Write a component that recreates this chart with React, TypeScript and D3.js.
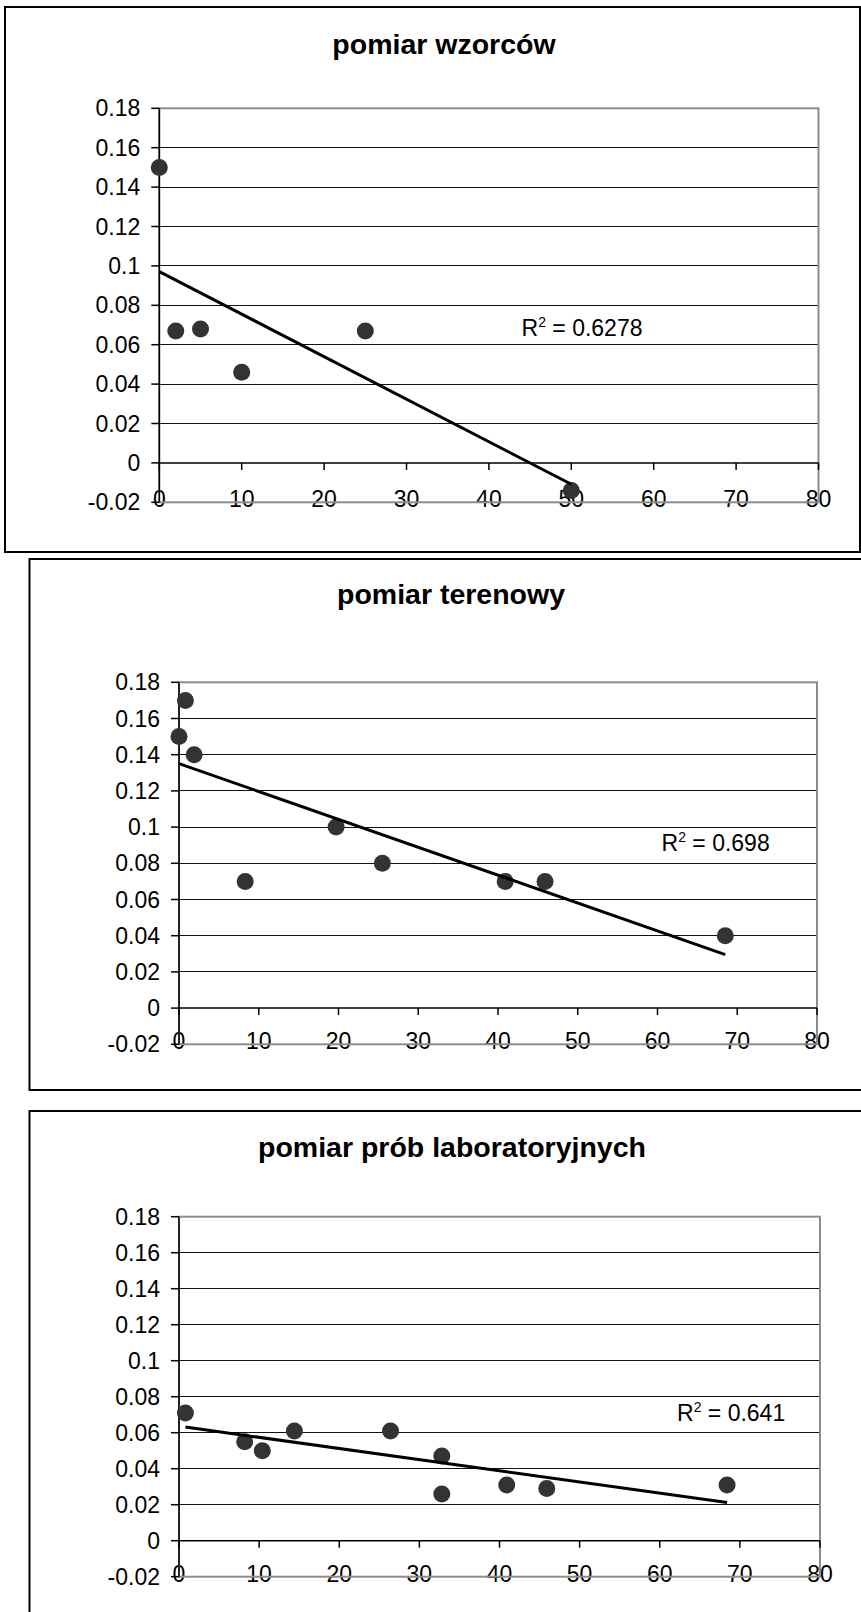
import React from 'react'
import * as d3 from 'd3'

// axis ticks shared by all three panels
const xTicks = [0, 10, 20, 30, 40, 50, 60, 70, 80]
const yTicks = [-0.02, 0, 0.02, 0.04, 0.06, 0.08, 0.1, 0.12, 0.14, 0.16, 0.18]
const yTickLabels = ['-0.02', '0', '0.02', '0.04', '0.06', '0.08', '0.1', '0.12', '0.14', '0.16', '0.18']

const titles = ['pomiar wzorców', 'pomiar terenowy', 'pomiar prób laboratoryjnych']
const r2Labels = ['0.6278', '0.698', '0.641']

// pomiar wzorców
const wzorceX = [0, 2, 5, 10, 25, 50]
const wzorceY = [0.15, 0.067, 0.068, 0.046, 0.067, -0.014]

// pomiar terenowy
const terenX = [0, 0.8, 1.9, 8.3, 19.7, 25.5, 40.9, 45.9, 68.5]
const terenY = [0.15, 0.17, 0.14, 0.07, 0.1, 0.08, 0.07, 0.07, 0.04]

// pomiar prób laboratoryjnych
const labX = [0.8, 8.2, 10.4, 14.4, 26.4, 32.8, 32.8, 40.9, 45.9, 68.4]
const labY = [0.071, 0.055, 0.05, 0.061, 0.061, 0.047, 0.026, 0.031, 0.029, 0.031]

const seriesX = [wzorceX, terenX, labX]
const seriesY = [wzorceY, terenY, labY]

// page layout of each panel (frame, plot area, title, R² label)
const panels = [
  { fx: 5, fy: 7, fw: 855, fh: 545, px0: 159.3, px1: 818.5, py0: 108.3, py1: 502.3, tx: 444, ty: 54, rx: 521.5, ry: 336 },
  { fx: 29.5, fy: 559, fw: 843, fh: 531, px0: 179, px1: 817, py0: 682.3, py1: 1044.3, tx: 451, ty: 604, rx: 661.5, ry: 851 },
  { fx: 29.5, fy: 1111, fw: 843, fh: 540, px0: 179, px1: 820, py0: 1216.7, py1: 1576.7, tx: 452, ty: 1157, rx: 677, ry: 1421 },
]

const FONT = '"Liberation Sans", Arial, sans-serif'
const TICK_SIZE = 23

// least squares fit, like Excel's linear trendline
function linearFit(xs: number[], ys: number[]) {
  const mx = d3.mean(xs) as number
  const my = d3.mean(ys) as number
  let sxy = 0
  let sxx = 0
  xs.forEach((x, i) => {
    sxy += (x - mx) * (ys[i] - my)
    sxx += (x - mx) * (x - mx)
  })
  const slope = sxy / sxx
  return (x: number) => my + slope * (x - mx)
}

function Panel({ idx }: { idx: number }) {
  const p = panels[idx]
  const xs = seriesX[idx]
  const ys = seriesY[idx]
  const x = d3.scaleLinear().domain([0, 80]).range([p.px0, p.px1])
  const y = d3.scaleLinear().domain([-0.02, 0.18]).range([p.py1, p.py0])
  const fit = linearFit(xs, ys)
  const [xmin, xmax] = d3.extent(xs) as [number, number]
  const trend = d3.line<number>().x(d => x(d)).y(d => y(fit(d)))([xmin, xmax]) || ''

  return (
    <g>
      <rect x={p.fx} y={p.fy} width={p.fw} height={p.fh} fill="#fff" stroke="#000" strokeWidth={2} />
      <text x={p.tx} y={p.ty} textAnchor="middle" fontFamily={FONT} fontWeight="bold" fontSize={28.5} fill="#000">
        {titles[idx]}
      </text>

      {/* gridlines */}
      {yTicks.filter(t => t > 0 && t < 0.17).map(t => (
        <line key={t} x1={p.px0} x2={p.px1} y1={y(t)} y2={y(t)} stroke="#111" strokeWidth={1} shapeRendering="crispEdges" />
      ))}

      {/* y tick labels */}
      {yTicks.map((t, i) => (
        <text key={t} x={p.px0 - 19} y={y(t) + 8} textAnchor="end" fontFamily={FONT} fontSize={TICK_SIZE} fill="#000">
          {yTickLabels[i]}
        </text>
      ))}
      {/* x tick labels sit on the bottom edge */}
      {xTicks.map(t => (
        <text key={t} x={x(t)} y={p.py1 + 5} textAnchor="middle" fontFamily={FONT} fontSize={TICK_SIZE} fill="#000">
          {t}
        </text>
      ))}

      {/* plot area border */}
      <rect x={p.px0} y={p.py0} width={p.px1 - p.px0} height={p.py1 - p.py0} fill="none" stroke="#8c8c8c" strokeWidth={2} />

      {/* x axis at y = 0 */}
      <line x1={p.px0} x2={p.px1} y1={y(0)} y2={y(0)} stroke="#000" strokeWidth={1.5} />
      {xTicks.map(t => (
        <line key={t} x1={x(t)} x2={x(t)} y1={y(0)} y2={y(0) + 7} stroke="#000" strokeWidth={1.5} />
      ))}
      {/* y axis */}
      <line x1={p.px0} x2={p.px0} y1={p.py0} y2={p.py1} stroke="#000" strokeWidth={1.5} />
      {yTicks.map(t => (
        <line key={t} x1={p.px0 - 8} x2={p.px0} y1={y(t)} y2={y(t)} stroke="#000" strokeWidth={1.5} />
      ))}

      {xs.map((v, i) => (
        <circle key={i} cx={x(v)} cy={y(ys[i])} r={8.5} fill="#333" />
      ))}
      <path d={trend} fill="none" stroke="#000" strokeWidth={3} />

      <text x={p.rx} y={p.ry} fontFamily={FONT} fontSize={TICK_SIZE} fill="#000">
        R<tspan fontSize={14} dy={-9}>2</tspan>
        <tspan dy={9}>{' = ' + r2Labels[idx]}</tspan>
      </text>
    </g>
  )
}

export default function App() {
  return (
    <div style={{ position: 'absolute', left: 0, top: 0 }}>
      <svg width={861} height={1612} style={{ display: 'block', background: '#fff' }}>
        {panels.map((_, i) => (
          <Panel key={i} idx={i} />
        ))}
      </svg>
    </div>
  )
}
